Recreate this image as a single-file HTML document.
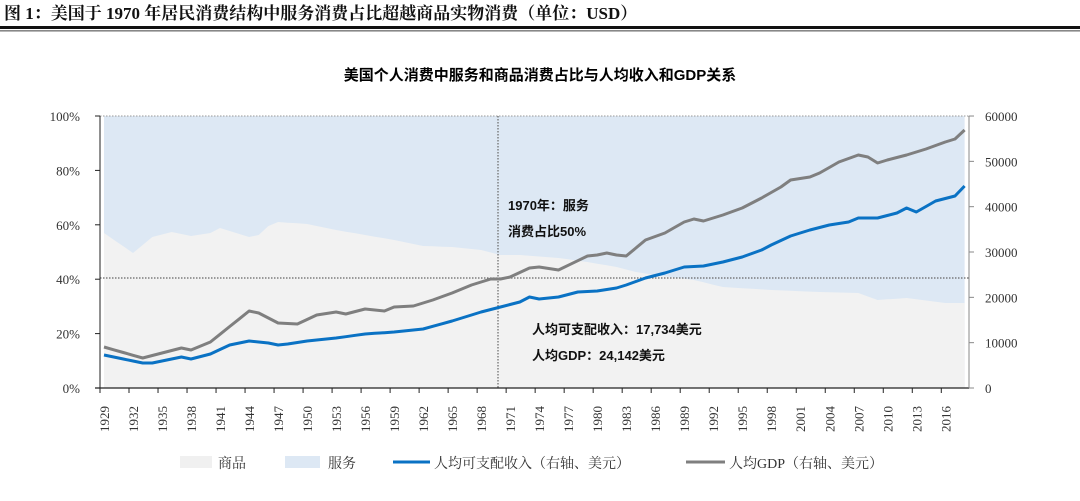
<!DOCTYPE html>
<html><head><meta charset="utf-8">
<style>
body{margin:0;background:#fff;width:1080px;height:501px;overflow:hidden}
svg{display:block;font-family:"Liberation Serif","Noto Serif CJK SC",serif}
</style></head><body>
<svg id="s" width="1080" height="501" xmlns="http://www.w3.org/2000/svg">
<text x="4" y="19" font-size="17" font-weight="bold" fill="#111">图 1：美国于 1970 年居民消费结构中服务消费占比超越商品实物消费（单位：USD）</text>
<rect x="0" y="26" width="1080" height="3" fill="#111"/>
<rect x="0" y="30.5" width="1080" height="0.8" fill="#111"/>
<text x="540" y="80" font-size="15" font-weight="bold" text-anchor="middle" font-family="Liberation Sans,Noto Sans CJK SC,sans-serif">美国个人消费中服务和商品消费占比与人均收入和GDP关系</text>
<g id="plot"></g>
</svg>
<script>
const X=y=>104+(y-1929)*9.67;
const T=y=>100+(y-1929)*9.67;
function interp(pts){const m={};for(let i=0;i<pts.length-1;i++){const[a,va]=pts[i],[b,vb]=pts[i+1];for(let y=a;y<b;y++)m[y]=va+(vb-va)*(y-a)/(b-a);}const l=pts[pts.length-1];m[l[0]]=l[1];return m;}
const goods=interp([[1929,233],[1932,253],[1934,237],[1936,232],[1938,236],[1940,233],[1941,228],[1944,237],[1945,235],[1946,226],[1947,222],[1950,224],[1953,230],[1956,235],[1959,240],[1962,246],[1965,247],[1968,250],[1970,255],[1972,255],[1976,258],[1979,262],[1982,267],[1984,272],[1986,275],[1990,280],[1993,287],[1998,290],[2003,292],[2007,293],[2009,300],[2012,298],[2016,303],[2018,303]]);
const gdp=interp([[1929,347],[1933,358],[1937,348],[1938,350],[1940,342],[1944,311],[1945,313],[1947,323],[1949,324],[1951,315],[1953,312],[1954,314],[1956,309],[1958,311],[1959,307],[1961,306],[1963,300],[1965,293],[1967,285],[1969,279],[1970,279],[1971,277],[1973,268],[1974,267],[1976,270],[1979,256],[1980,255],[1981,253],[1982,255],[1983,256],[1985,240],[1987,233],[1989,222],[1990,219],[1991,221],[1993,215],[1995,208],[1997,198],[1999,187],[2000,180],[2002,177],[2003,173],[2005,162],[2007,155],[2008,157],[2009,163],[2010,160],[2012,155],[2014,149],[2016,142],[2017,139],[2018,130]]);
const inc=interp([[1929,355],[1933,363],[1934,363],[1937,357],[1938,359],[1940,354],[1942,345],[1944,341],[1946,343],[1947,345],[1948,344],[1950,341],[1953,338],[1956,334],[1959,332],[1962,329],[1965,321],[1968,312],[1970,307],[1972,302],[1973,297],[1974,299],[1976,297],[1978,292],[1980,291],[1982,288],[1983,285],[1985,278],[1987,273],[1989,267],[1991,266],[1993,262],[1995,257],[1997,250],[1998,245],[2000,236],[2002,230],[2004,225],[2006,222],[2007,218],[2009,218],[2011,213],[2012,208],[2013,212],[2015,201],[2017,196],[2018,186]]);
let h='';
h+=`<rect x="${X(1929)}" y="116" width="${X(2018)-X(1929)}" height="272" fill="#dde8f4"/>`;
let p=`M${X(1929)},388`;for(let y=1929;y<=2018;y++)p+=` L${X(y).toFixed(1)},${goods[y].toFixed(1)}`;p+=` L${X(2018)},388Z`;
h+=`<path d="${p}" fill="#f2f2f2"/>`;
h+=`<line x1="100" y1="116" x2="969" y2="116" stroke="#999" stroke-dasharray="1.5,1.5"/>`;
h+=`<line x1="100" y1="278" x2="969" y2="278" stroke="#666" stroke-width="1.3" stroke-dasharray="1.5,1.5"/>`;
h+=`<line x1="498" y1="116" x2="498" y2="388" stroke="#666" stroke-width="1.2" stroke-dasharray="1.5,1.5"/>`;
function line(m,c){let d='';for(let y=1929;y<=2018;y++)d+=(y==1929?'M':' L')+X(y).toFixed(1)+','+m[y].toFixed(1);return `<path d="${d}" fill="none" stroke="${c}" stroke-width="3" stroke-linejoin="round"/>`;}
h+=line(gdp,'#7f7f7f');h+=line(inc,'#0a72c4');
h+=`<line x1="100" y1="116" x2="100" y2="388" stroke="#222"/><line x1="95" y1="388" x2="969" y2="388" stroke="#222" stroke-width="1.2"/><line x1="969" y1="116" x2="969" y2="388" stroke="#888"/>`;
for(let i=0;i<=5;i++){const y=388-i*54.4;h+=`<line x1="95" y1="${y}" x2="100" y2="${y}" stroke="#222"/><text x="80" y="${y+5}" font-size="13" text-anchor="end" fill="#333">${i*20}%</text>`;}
for(let i=0;i<=6;i++){const y=388-i*45.33;h+=`<line x1="969" y1="${y}" x2="974" y2="${y}" stroke="#888"/><text x="985" y="${y+5}" font-size="13" fill="#333">${i*10000}</text>`;}
for(let y=1929;y<=2016;y+=3){const x=T(y);h+=`<line x1="${x}" y1="388" x2="${x}" y2="393" stroke="#222"/><text transform="translate(${x+9},432) rotate(-90)" font-size="13" fill="#333">${y}</text>`;}
const cj='font-family="Liberation Sans,Noto Sans CJK SC,sans-serif" font-weight="bold" font-size="13" fill="#111"';
h+=`<text x="508" y="210" ${cj}>1970年：服务</text><text x="508" y="236" ${cj}>消费占比50%</text>`;
h+=`<text x="532" y="334" ${cj}>人均可支配收入：17,734美元</text><text x="532" y="360" ${cj}>人均GDP：24,142美元</text>`;
const lg='font-size="14" fill="#333"';
h+=`<rect x="180" y="456" width="32" height="12" fill="#f0f0f0"/><text x="218" y="468" ${lg}>商品</text>`;
h+=`<rect x="285" y="456" width="35" height="12" fill="#dde8f4"/><text x="328" y="468" ${lg}>服务</text>`;
h+=`<line x1="393" y1="462" x2="430" y2="462" stroke="#0a72c4" stroke-width="3"/><text x="434" y="468" ${lg}>人均可支配收入（右轴、美元）</text>`;
h+=`<line x1="686" y1="462" x2="725" y2="462" stroke="#7f7f7f" stroke-width="3"/><text x="729" y="468" ${lg}>人均GDP（右轴、美元）</text>`;
document.getElementById('plot').innerHTML=h;
</script>
</body></html>
